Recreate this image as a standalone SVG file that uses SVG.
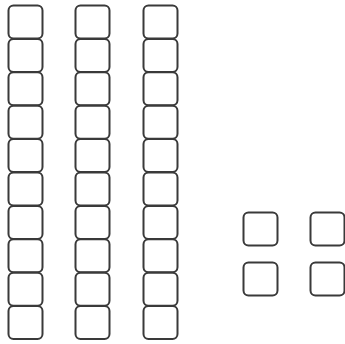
<svg xmlns="http://www.w3.org/2000/svg" width="345" height="344" viewBox="0 0 345 344">
<style>
.b{fill:#fff;stroke:#3a3a3a;stroke-width:2;}
</style>
<defs>
<rect id="c" class="b" x="0" y="0" width="34" height="33" rx="5"/>
<g id="rod">
<use href="#c" y="0"/><use href="#c" y="33.4"/><use href="#c" y="66.8"/><use href="#c" y="100.2"/><use href="#c" y="133.6"/>
<use href="#c" y="167"/><use href="#c" y="200.4"/><use href="#c" y="233.8"/><use href="#c" y="267.2"/><use href="#c" y="300.6"/>
</g>
</defs>
<rect width="345" height="344" fill="#fff"/>
<g id="rod1"><use href="#rod" x="8.5" y="5.5"/></g>
<g id="rod2"><use href="#rod" x="75.5" y="5.5"/></g>
<g id="rod3"><use href="#rod" x="143.5" y="5.5"/></g>
<g id="unit1"><use href="#c" x="243.5" y="212.5"/></g>
<g id="unit2"><use href="#c" x="310.5" y="212.5"/></g>
<g id="unit3"><use href="#c" x="243.5" y="262.5"/></g>
<g id="unit4"><use href="#c" x="310.5" y="262.5"/></g>
<g id="connectors"/>
</svg>
